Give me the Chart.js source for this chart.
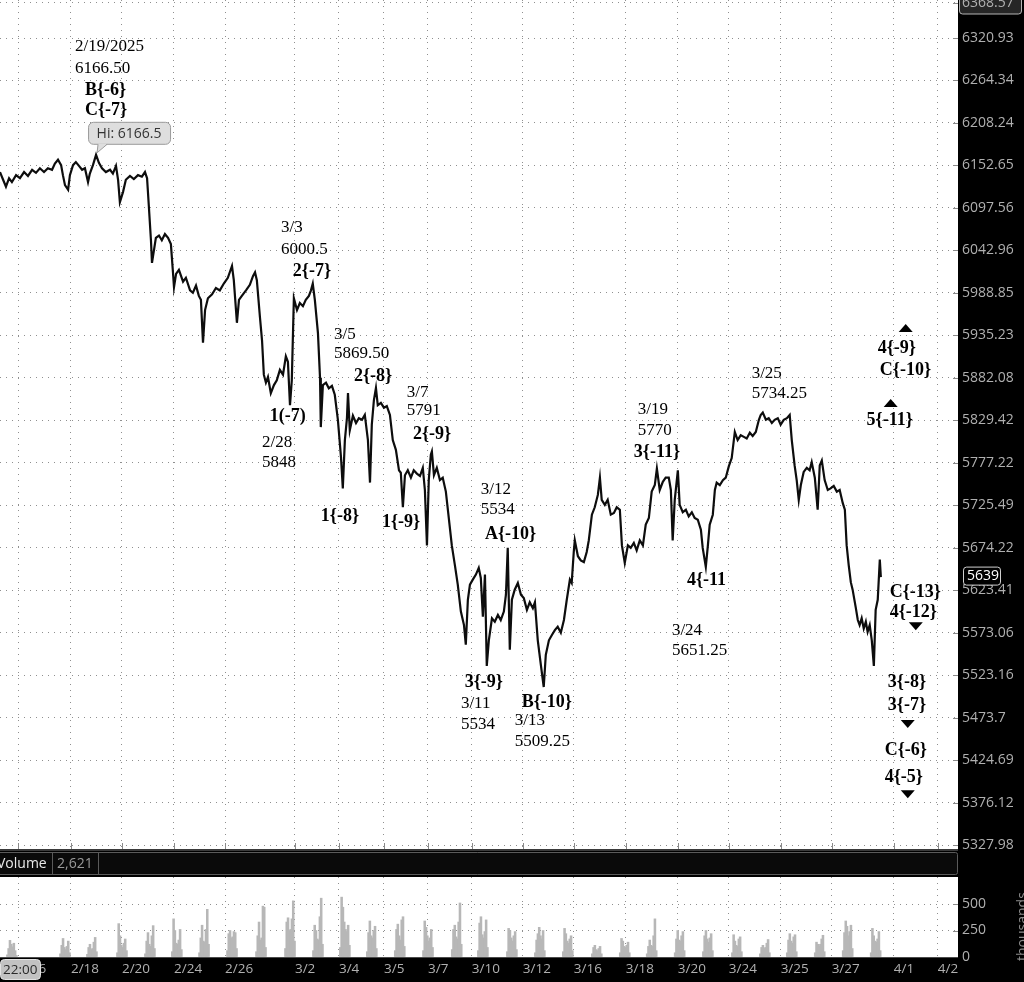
<!DOCTYPE html>
<html>
<head>
<meta charset="utf-8">
<script src="https://cdn.jsdelivr.net/npm/chart.js@4.4.1/dist/chart.umd.min.js"></script>
<style>
html, body { margin: 0; padding: 0; background: #fff; }
#wrap { position: relative; width: 1024px; height: 982px; overflow: hidden; }
canvas { position: absolute; left: 0; }
#priceCanvas { top: 0; }
#volCanvas { top: 851px; }
</style>
</head>
<body>
<div id="wrap">
  <canvas id="priceCanvas" width="1024" height="851"></canvas>
  <canvas id="volCanvas" width="1024" height="131"></canvas>
</div>
<script>
// ---- datos: posicion en sesiones (dias) y precio ----
const priceT = [
  0.00, 0.12, 0.23, 0.35, 0.46, 0.62, 0.77, 0.93, 1.08, 1.24,
  1.39, 1.54, 1.70, 1.85, 2.01, 2.12, 2.24, 2.36, 2.43, 2.51,
  2.63, 2.70, 2.82, 2.93, 3.05, 3.17, 3.28, 3.40, 3.47, 3.59,
  3.71, 3.82, 3.94, 4.09, 4.25, 4.36, 4.48, 4.56, 4.63, 4.75,
  4.86, 5.02, 5.17, 5.33, 5.48, 5.60, 5.68, 5.75, 5.83, 5.87,
  5.95, 6.02, 6.14, 6.25, 6.37, 6.49, 6.60, 6.68, 6.72, 6.80,
  6.91, 7.07, 7.18, 7.34, 7.45, 7.57, 7.68, 7.76, 7.84, 7.92,
  8.03, 8.19, 8.34, 8.49, 8.65, 8.80, 8.96, 9.03, 9.15, 9.23,
  9.34, 9.50, 9.65, 9.77, 9.85, 9.92, 10.04, 10.12, 10.19, 10.27,
  10.35, 10.46, 10.58, 10.69, 10.81, 10.93, 11.04, 11.12, 11.20, 11.27,
  11.35, 11.47, 11.58, 11.70, 11.81, 11.93, 12.01, 12.08, 12.16, 12.28,
  12.36, 12.39, 12.47, 12.59, 12.70, 12.82, 12.93, 13.05, 13.17, 13.24,
  13.32, 13.40, 13.44, 13.51, 13.63, 13.75, 13.86, 13.98, 14.09, 14.21,
  14.29, 14.36, 14.44, 14.52, 14.59, 14.71, 14.83, 14.94, 15.06, 15.17,
  15.29, 15.41, 15.48, 15.56, 15.64, 15.75, 15.87, 15.98, 16.10, 16.22,
  16.33, 16.41, 16.49, 16.56, 16.64, 16.68, 16.76, 16.87, 16.99, 17.10,
  17.22, 17.34, 17.45, 17.57, 17.68, 17.80, 17.92, 17.99, 18.07, 18.15,
  18.26, 18.38, 18.49, 18.57, 18.65, 18.73, 18.80, 18.88, 19.00, 19.11,
  19.23, 19.34, 19.46, 19.54, 19.61, 19.69, 19.77, 19.88, 20.00, 20.12,
  20.23, 20.35, 20.46, 20.58, 20.66, 20.77, 20.89, 21.00, 21.08, 21.20,
  21.31, 21.43, 21.54, 21.66, 21.78, 21.89, 22.01, 22.08, 22.16, 22.20,
  22.32, 22.43, 22.55, 22.66, 22.74, 22.86, 22.97, 23.09, 23.17, 23.24,
  23.36, 23.47, 23.59, 23.71, 23.82, 23.94, 24.02, 24.13, 24.25, 24.36,
  24.48, 24.59, 24.71, 24.83, 24.94, 25.06, 25.17, 25.29, 25.37, 25.48,
  25.60, 25.71, 25.83, 25.91, 25.98, 26.06, 26.18, 26.25, 26.37, 26.49,
  26.60, 26.72, 26.83, 26.95, 27.07, 27.14, 27.26, 27.34, 27.41, 27.53,
  27.61, 27.68, 27.80, 27.92, 28.03, 28.15, 28.26, 28.38, 28.49, 28.61,
  28.73, 28.84, 28.96, 29.07, 29.19, 29.31, 29.38, 29.46, 29.58, 29.69,
  29.81, 29.92, 30.04, 30.15, 30.27, 30.39, 30.50, 30.58, 30.69, 30.77,
  30.85, 30.93, 31.04, 31.16, 31.27, 31.35, 31.47, 31.58, 31.66, 31.74,
  31.85, 31.97, 32.08, 32.20, 32.32, 32.43, 32.55, 32.63, 32.70, 32.78,
  32.86, 32.93, 33.05, 33.13, 33.20, 33.28, 33.36, 33.44, 33.51, 33.59,
  33.67, 33.75, 33.82, 33.90, 33.98, 34.02
];
const price = [
  6144, 6134, 6125, 6136, 6131, 6140, 6136, 6144, 6139, 6147,
  6143, 6149, 6144, 6149, 6147, 6155, 6160, 6153, 6140, 6127,
  6121, 6140, 6153, 6157, 6152, 6147, 6149, 6131, 6142, 6153,
  6166.5, 6156, 6149, 6144, 6147, 6142, 6152, 6134, 6105, 6118,
  6134, 6139, 6135, 6140, 6138, 6144, 6136, 6099, 6056, 6027,
  6044, 6059, 6062, 6056, 6064, 6059, 6051, 6015, 5996, 6013,
  6018, 6003, 6008, 5992, 5989, 5998, 5985, 5980, 5926, 5967,
  5982, 5987, 5995, 5992, 6001, 6008, 6023, 6005, 5951, 5980,
  5985, 5992, 5999, 6010, 6015, 6005, 5958, 5929, 5886, 5876,
  5883, 5863, 5873, 5879, 5892, 5886, 5909, 5902, 5848, 5879,
  5982, 5967, 5976, 5972, 5980, 5985, 5992, 6000.5, 5980, 5938,
  5882, 5821, 5873, 5876, 5869, 5872, 5861, 5830, 5784, 5746,
  5805, 5832, 5863, 5817, 5835, 5826, 5832, 5830, 5836, 5805,
  5753, 5824, 5854, 5869.5, 5848, 5851, 5845, 5847, 5836, 5805,
  5793, 5768, 5765, 5723, 5762, 5768, 5759, 5768, 5764, 5761,
  5771, 5744, 5677, 5756, 5787, 5791, 5762, 5771, 5756, 5759,
  5742, 5708, 5677, 5653, 5630, 5598, 5582, 5559, 5612, 5630,
  5636, 5642, 5650, 5638, 5592, 5642, 5534, 5564, 5590, 5586,
  5594, 5588, 5598, 5618, 5674, 5553, 5612, 5624, 5632, 5618,
  5614, 5600, 5609, 5602, 5609, 5564, 5535, 5509.25, 5547, 5564,
  5570, 5576, 5580, 5573, 5588, 5612, 5636, 5632, 5669, 5683,
  5664, 5659, 5657, 5669, 5683, 5714, 5723, 5738, 5759, 5732,
  5726, 5732, 5714, 5716, 5723, 5720, 5677, 5656, 5677, 5674,
  5680, 5671, 5683, 5677, 5702, 5710, 5742, 5750, 5770, 5744,
  5754, 5759, 5759, 5744, 5683, 5732, 5768, 5726, 5717, 5720,
  5712, 5717, 5710, 5708, 5696, 5674, 5651.25, 5677, 5702, 5714,
  5744, 5753, 5750, 5756, 5759, 5773, 5783, 5815, 5805, 5811,
  5809, 5807, 5814, 5810, 5815, 5830, 5836, 5839, 5830, 5832,
  5826, 5830, 5832, 5824, 5830, 5832, 5836, 5805, 5774, 5756,
  5732, 5750, 5766, 5771, 5768, 5778, 5759, 5720, 5774, 5780,
  5756, 5744, 5746, 5749, 5742, 5744, 5728, 5720, 5677, 5653,
  5633, 5624, 5603, 5588, 5582, 5590, 5578, 5586, 5574, 5582,
  5564, 5534, 5600, 5612, 5660, 5639
];

// volumen (miles) por sesion, 8 barras por sesion
const sessionT = [0.46, 2.51, 3.55, 4.71, 5.79, 6.83, 7.88, 8.96, 10.08, 11.20, 12.28,
  13.32, 14.36, 15.44, 16.53, 17.64, 18.65, 19.77, 20.85, 21.93, 23.05,
  24.13, 25.17, 26.25, 27.34, 28.46, 29.54, 30.58, 31.66, 32.74, 33.82];
const sessionVol = [
  [20, 80, 157, 120, 95, 130, 60, 15],
  [30, 110, 175, 90, 70, 100, 150, 40],
  [25, 90, 120, 70, 80, 140, 185, 50],
  [40, 315, 200, 110, 90, 130, 170, 60],
  [30, 150, 230, 120, 100, 200, 296, 80],
  [50, 360, 250, 130, 120, 160, 260, 70],
  [40, 180, 300, 150, 140, 260, 450, 120],
  [60, 220, 250, 180, 190, 240, 230, 80],
  [50, 200, 330, 160, 180, 480, 470, 90],
  [80, 330, 370, 250, 260, 360, 530, 150],
  [60, 300, 250, 170, 160, 380, 555, 120],
  [90, 565, 470, 330, 260, 240, 300, 110],
  [50, 230, 340, 200, 180, 250, 290, 80],
  [60, 260, 310, 200, 160, 350, 380, 100],
  [60, 340, 280, 200, 150, 180, 260, 90],
  [70, 260, 300, 190, 170, 330, 510, 120],
  [60, 320, 380, 210, 180, 240, 350, 90],
  [50, 270, 250, 180, 150, 200, 240, 70],
  [40, 160, 220, 280, 200, 170, 250, 60],
  [50, 270, 220, 150, 130, 170, 200, 60],
  [30, 90, 110, 70, 60, 80, 100, 30],
  [40, 175, 150, 100, 90, 110, 140, 40],
  [30, 100, 160, 110, 100, 200, 360, 60],
  [40, 170, 250, 160, 150, 200, 240, 60],
  [50, 200, 250, 170, 140, 180, 220, 60],
  [40, 210, 150, 110, 100, 170, 190, 50],
  [30, 90, 110, 80, 90, 130, 165, 40],
  [40, 160, 220, 150, 130, 190, 210, 50],
  [40, 140, 120, 100, 120, 170, 205, 50],
  [60, 230, 340, 290, 200, 240, 300, 80],
  [40, 270, 200, 150, 140, 170, 240, 60]
];

// ejes
const dateTickPos = [0.70, 2.74, 4.71, 6.72, 8.69, 11.39, 13.09, 14.83, 16.53, 18.22,
  20.19, 22.16, 24.17, 26.18, 28.15, 30.15, 32.12, 34.52, 36.22];
const dateTickLabels = ['2/16', '2/18', '2/20', '2/24', '2/26', '3/2', '3/4', '3/5', '3/7', '3/10',
  '3/12', '3/16', '3/18', '3/20', '3/24', '3/25', '3/27', '4/1', '4/2'];
const priceTicks = [6368.57, 6320.93, 6264.34, 6208.24, 6152.65, 6097.56, 6042.96, 5988.85,
  5935.23, 5882.08, 5829.42, 5777.22, 5725.49, 5674.22, 5623.41, 5573.06, 5523.16,
  5473.7, 5424.69, 5376.12, 5327.98];
const volTicks = [0, 250, 500];

// etiquetas de ondas: [t, precio, texto, negrita]
const waveLabels = [
  [2.90, 6309.0, '2/19/2025', 0], [2.90, 6279.6, '6166.50', 0],
  [3.28, 6251.8, 'B{-6}', 1], [3.28, 6225.4, 'C{-7}', 1],
  [10.85, 6071.7, '3/3', 0], [10.85, 6043.5, '6000.5', 0], [11.31, 6016.7, '2{-7}', 1],
  [12.90, 5936.8, '3/5', 0], [12.90, 5911.8, '5869.50', 0], [13.67, 5884.3, '2{-8}', 1],
  [15.71, 5863.2, '3/7', 0], [15.71, 5840.9, '5791', 0], [15.95, 5812.5, '2{-9}', 1],
  [10.42, 5834.6, '1(-7)', 1], [10.12, 5801.4, '2/28', 0], [10.12, 5776.9, '5848', 0],
  [12.39, 5712.4, '1{-8}', 1], [14.75, 5705.2, '1{-9}', 1],
  [18.57, 5744.0, '3/12', 0], [18.57, 5719.7, '5534', 0], [18.73, 5690.7, 'A{-10}', 1],
  [17.95, 5515.1, '3{-9}', 1], [17.80, 5490.6, '3/11', 0], [17.80, 5466.2, '5534', 0],
  [20.15, 5491.8, 'B{-10}', 1], [19.88, 5470.8, '3/13', 0], [19.88, 5445.5, '5509.25', 0],
  [24.63, 5842.1, '3/19', 0], [24.63, 5816.2, '5770', 0], [24.48, 5790.2, '3{-11}', 1],
  [26.53, 5635.5, '4{-11', 1], [25.95, 5576.1, '3/24', 0], [25.95, 5551.5, '5651.25', 0],
  [29.03, 5886.8, '3/25', 0], [29.03, 5862.0, '5734.25', 0],
  [33.90, 5919.3, '4{-9}', 1], [33.98, 5891.8, 'C{-10}', 1], [33.47, 5829.7, '5{-11}', 1],
  [34.36, 5621.2, 'C{-13}', 1], [34.36, 5597.5, '4{-12}', 1],
  [34.29, 5515.1, '3{-8}', 1], [34.29, 5488.3, '3{-7}', 1],
  [34.17, 5436.2, 'C{-6}', 1], [34.17, 5405.1, '4{-5}', 1]
];
// flechas: [t, precio, direccion]
const markers = [
  [34.98, 5944.4, 'up'], [34.40, 5850.8, 'up'],
  [35.37, 5580.7, 'down'], [35.06, 5466.2, 'down'], [35.06, 5385.5, 'down']
];
const hiT = 3.71, hiPrice = 6166.5;
const lastClose = 5639;
const volumeReadout = '2,621';

const X_MAX = 37;
const AXIS_W = 66;
const axisFont = { family: 'Open Sans', size: 14 };
const gridStyle = { color: '#8f8f8f', lineWidth: 1, drawTicks: false, offset: false };
const dotted = { display: false, dash: [1, 5] };

// sin relleno extra para las etiquetas de los extremos
function fitY(s) {
    s.width = AXIS_W;
    s.paddingTop = 0; s.paddingBottom = 0;
}

function tri(ctx, x, y, dir) {
    ctx.beginPath();
    if (dir === 'up') {
        ctx.moveTo(x - 7, y + 4); ctx.lineTo(x + 7, y + 4); ctx.lineTo(x, y - 4);
    } else {
        ctx.moveTo(x - 7, y - 4); ctx.lineTo(x + 7, y - 4); ctx.lineTo(x, y + 4);
    }
    ctx.closePath();
    ctx.fill();
}

const pricePanel = {
    id: 'pricePanel',
    beforeDraw(chart) {
        const { ctx, chartArea: a, width, height } = chart;
        ctx.save();
        ctx.fillStyle = '#ffffff';
        ctx.fillRect(0, 0, width, height);
        ctx.fillStyle = '#000000';
        ctx.fillRect(a.right, 0, width - a.right, height);
        ctx.fillStyle = '#3a3a3a';
        ctx.fillRect(0, a.bottom, a.right, height - a.bottom);
        // caja del valor superior
        ctx.beginPath();
        ctx.roundRect(a.right + 1.5, -6, 62, 20, 3);
        ctx.fillStyle = '#262626';
        ctx.fill();
        ctx.strokeStyle = '#b5b5b5';
        ctx.stroke();
        ctx.restore();
    },
    afterDatasetsDraw(chart) {
        const { ctx } = chart;
        const xs = chart.scales.x, ys = chart.scales.y;
        ctx.save();
        ctx.fillStyle = '#000';
        ctx.textAlign = 'left';
        ctx.textBaseline = 'middle';
        waveLabels.forEach(([t, p, txt, b]) => {
            ctx.font = b ? 'bold 18px "Liberation Serif"' : '17px "Liberation Serif"';
            ctx.fillText(txt, xs.getPixelForValue(t), ys.getPixelForValue(p));
        });
        markers.forEach(([t, p, d]) => tri(ctx, xs.getPixelForValue(t), ys.getPixelForValue(p), d));

        // globo del maximo
        const hx = xs.getPixelForValue(hiT), hy = ys.getPixelForValue(hiPrice);
        const bx = hx - 8, by = hy - 33;
        ctx.beginPath();
        ctx.roundRect(bx + 0.5, by + 0.5, 82, 22, 5);
        ctx.fillStyle = '#dedede';
        ctx.fill();
        ctx.strokeStyle = '#9a9a9a';
        ctx.stroke();
        ctx.beginPath();
        ctx.moveTo(bx + 10, by + 22);
        ctx.lineTo(hx + 1, hy - 2);
        ctx.lineTo(bx + 19, by + 22);
        ctx.closePath();
        ctx.fillStyle = '#dedede';
        ctx.fill();
        ctx.beginPath();
        ctx.moveTo(bx + 10, by + 22.5);
        ctx.lineTo(hx + 1, hy - 2);
        ctx.lineTo(bx + 19, by + 22.5);
        ctx.stroke();
        ctx.fillStyle = '#333';
        ctx.font = '14px "Open Sans"';
        ctx.textAlign = 'center';
        ctx.fillText('Hi: 6166.5', bx + 41, by + 12);
        ctx.restore();
    },
    afterDraw(chart) {
        const { ctx, chartArea: a } = chart;
        const xs = chart.scales.x, ys = chart.scales.y;
        ctx.save();
        ctx.strokeStyle = '#8a8a8a';
        ctx.lineWidth = 1;
        priceTicks.forEach(v => {
            const y = Math.round(ys.getPixelForValue(v)) + 0.5;
            ctx.beginPath(); ctx.moveTo(a.right - 5, y); ctx.lineTo(a.right, y); ctx.stroke();
        });
        dateTickPos.forEach(v => {
            const x = Math.round(xs.getPixelForValue(v)) + 0.5;
            ctx.beginPath(); ctx.moveTo(x, a.bottom - 6); ctx.lineTo(x, a.bottom); ctx.stroke();
        });
        // etiqueta del ultimo precio
        const cy = ys.getPixelForValue(lastClose) - 1;
        ctx.beginPath();
        ctx.roundRect(a.right + 5.5, cy - 9, 37, 18, 3);
        ctx.fillStyle = '#000';
        ctx.fill();
        ctx.strokeStyle = '#d0d0d0';
        ctx.stroke();
        ctx.fillStyle = '#ffffff';
        ctx.font = '14px "Open Sans"';
        ctx.textAlign = 'left';
        ctx.textBaseline = 'middle';
        ctx.fillText(String(lastClose), a.right + 9, cy);
        ctx.restore();
    }
};

const volPanel = {
    id: 'volPanel',
    beforeDraw(chart) {
        const { ctx, chartArea: a, width, height } = chart;
        ctx.save();
        ctx.fillStyle = '#000';
        ctx.fillRect(0, 0, width, height);
        ctx.fillStyle = '#fff';
        ctx.fillRect(0, a.top, a.right, a.bottom - a.top);
        // cabecera de volumen
        ctx.beginPath();
        ctx.roundRect(-4.5, 1.5, a.right + 4, 22, 2);
        ctx.fillStyle = '#0a0a0a';
        ctx.fill();
        ctx.strokeStyle = '#5a5a5a';
        ctx.stroke();
        ctx.beginPath();
        ctx.moveTo(52.5, 2); ctx.lineTo(52.5, 23);
        ctx.moveTo(98.5, 2); ctx.lineTo(98.5, 23);
        ctx.stroke();
        ctx.font = '14px "Open Sans"';
        ctx.textBaseline = 'middle';
        ctx.fillStyle = '#e8e8e8';
        ctx.fillText('Volume', -3, 13);
        ctx.fillStyle = '#9a9a9a';
        ctx.fillText(volumeReadout, 57, 13);
        ctx.restore();
    },
    afterDraw(chart) {
        const { ctx, chartArea: a } = chart;
        const ys = chart.scales.y;
        ctx.save();
        ctx.strokeStyle = '#8a8a8a';
        volTicks.forEach(v => {
            const y = Math.round(ys.getPixelForValue(v)) + 0.5;
            ctx.beginPath(); ctx.moveTo(a.right - 5, y); ctx.lineTo(a.right, y); ctx.stroke();
        });
        ctx.strokeStyle = '#4a4a4a';
        ctx.beginPath(); ctx.moveTo(0, a.bottom + 0.5); ctx.lineTo(a.right, a.bottom + 0.5); ctx.stroke();
        // caja de hora
        ctx.beginPath();
        ctx.roundRect(0.5, a.bottom + 2.5, 40, 20, 4);
        ctx.fillStyle = '#c2c2c2';
        ctx.fill();
        ctx.strokeStyle = '#e2e2e2';
        ctx.stroke();
        ctx.fillStyle = '#2a2a2a';
        ctx.font = '13.5px "Open Sans"';
        ctx.textBaseline = 'middle';
        ctx.fillText('22:00', 3, a.bottom + 13);
        // unidad rotada
        ctx.translate(1027, a.bottom + 4);
        ctx.rotate(-Math.PI / 2);
        ctx.fillStyle = '#8a8a8a';
        ctx.font = '14px "Open Sans"';
        ctx.textBaseline = 'alphabetic';
        ctx.fillText('thousands', 0, 0);
        ctx.restore();
    }
};

const pricePoints = priceT.map((t, i) => ({ x: t, y: price[i] }));

new Chart(document.getElementById('priceCanvas'), {
    type: 'line',
    data: {
        datasets: [{
            data: pricePoints,
            borderColor: '#0d0d0d',
            borderWidth: 2.2,
            pointRadius: 0,
            tension: 0,
            fill: false
        }]
    },
    options: {
        animation: false,
        responsive: false,
        devicePixelRatio: 1,
        events: [],
        layout: { padding: 0 },
        plugins: { legend: { display: false }, tooltip: { enabled: false } },
        scales: {
            x: {
                type: 'linear', min: 0, max: X_MAX, position: 'bottom', offset: false,
                afterBuildTicks: s => { s.ticks = dateTickPos.map(v => ({ value: v })); },
                afterFit: s => { s.height = 2; s.paddingLeft = 0; s.paddingRight = 0; },
                ticks: { display: false },
                grid: gridStyle,
                border: dotted
            },
            y: {
                type: 'logarithmic', position: 'right', min: 5323.5, max: 6372,
                afterBuildTicks: s => { s.ticks = priceTicks.map(v => ({ value: v })); },
                afterFit: fitY,
                ticks: { autoSkip: false, padding: 4, color: '#b0b0b0', font: axisFont, callback: v => String(v) },
                grid: gridStyle,
                border: dotted
            }
        }
    },
    plugins: [pricePanel]
});

const volPoints = [];
sessionT.forEach((t, s) => {
    sessionVol[s].forEach((v, j) => volPoints.push({ x: t + (j - 3.5) * 0.05, y: v }));
});

new Chart(document.getElementById('volCanvas'), {
    type: 'bar',
    data: {
        datasets: [{
            data: volPoints,
            backgroundColor: '#b7b7b7',
            borderWidth: 0,
            barThickness: 1.9
        }]
    },
    options: {
        animation: false,
        responsive: false,
        devicePixelRatio: 1,
        events: [],
        layout: { padding: { top: 26, left: 0, right: 0, bottom: 0 } },
        plugins: { legend: { display: false }, tooltip: { enabled: false } },
        scales: {
            x: {
                type: 'linear', min: 0, max: X_MAX, position: 'bottom', offset: false,
                afterBuildTicks: s => { s.ticks = dateTickPos.map(v => ({ value: v })); },
                afterFit: s => { s.height = 25; s.paddingLeft = 0; s.paddingRight = 0; },
                ticks: {
                    autoSkip: false, maxRotation: 0, align: 'start', padding: 4,
                    color: '#b0b0b0', font: { family: 'Open Sans', size: 13.5 },
                    callback: (v, i) => dateTickLabels[i]
                },
                grid: gridStyle,
                border: dotted
            },
            y: {
                position: 'right', min: 0, max: 755,
                afterBuildTicks: s => { s.ticks = volTicks.map(v => ({ value: v })); },
                afterFit: fitY,
                ticks: { autoSkip: false, padding: 4, color: '#b0b0b0', font: axisFont, callback: v => String(v) },
                grid: gridStyle,
                border: dotted
            }
        }
    },
    plugins: [volPanel]
});
</script>
</body>
</html>
